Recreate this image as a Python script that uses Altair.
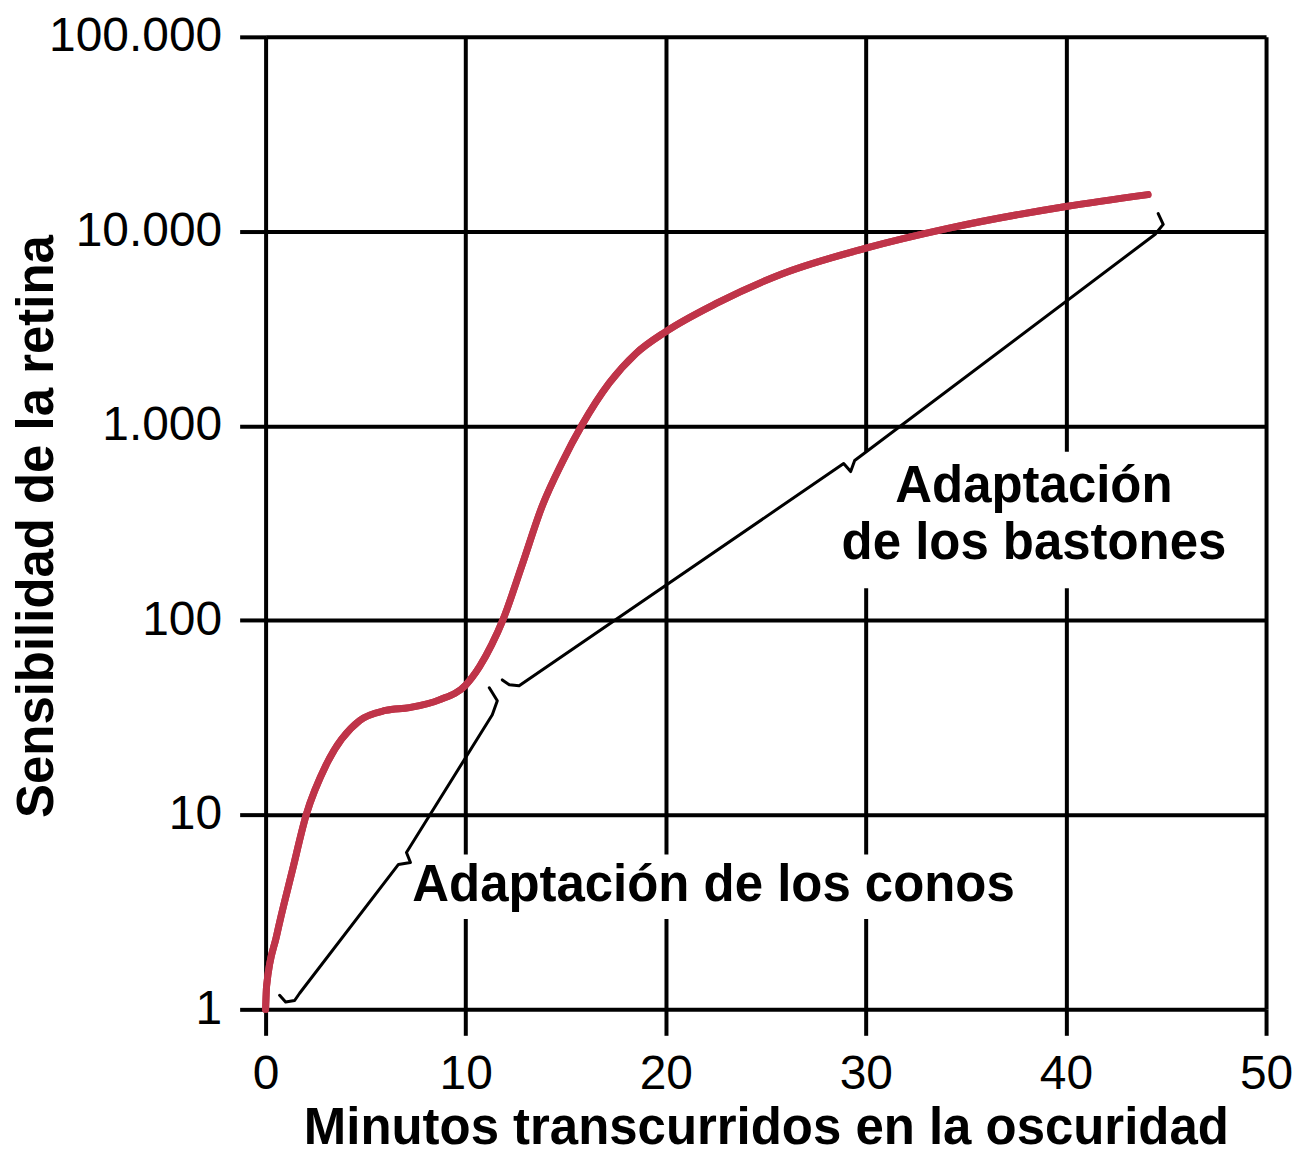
import altair as alt
import pandas as pd

# Red curve: retinal sensitivity vs minutes in darkness
red_x = [0, 0.05, 0.55, 1.35, 2.03, 3.04, 4.69, 6.0, 7.19, 8.68, 10.0, 10.7, 11.3,
         11.85, 12.8, 13.82, 14.82, 15.82, 17.17, 18.51, 20.0, 22.5, 25.8, 30.0,
         34.1, 40.0, 44.1]
red_y = [1, 1.32, 2.39, 5.24, 10, 18.2, 30.5, 34.4, 35.6, 39, 46.5, 58, 75,
         100, 190, 386, 648, 1012, 1657, 2356, 3050, 4245, 6035, 8190,
         10350, 13420, 15450]

# Black bracket lines (two segments with brace curls)
conos_x = [0.70, 1.00, 1.45, 1.70, 6.64, 7.24, 7.04, 11.33, 11.58, 11.18]
conos_y = [1.18, 1.09, 1.11, 1.21, 5.56, 5.69, 6.40, 32.7, 38.6, 45.0]
bast_x = [11.83, 12.18, 12.67, 28.89, 29.24, 29.44, 44.46, 44.86, 44.61]
bast_y = [49.4, 46.6, 46.1, 640, 582, 663, 9660, 10860, 12350]

# Axis ticks
x_ticks = [0, 10, 20, 30, 40, 50]
y_ticks = [1, 10, 100, 1000, 10000, 100000]
y_tick_labels = ["1", "10", "100", "1.000", "10.000", "100.000"]

# Annotations
ann_text = ["Adaptación de los conos", "Adaptación", "de los bastones"]
ann_x = [7.33, 38.4, 38.4]
ann_y = [3.6, 405, 207]

# White boxes behind the annotations (break the grid lines)
box_x = [7.3, 28.7]
box_x2 = [37.9, 48.1]
box_y = [2.91, 146]
box_y2 = [6.25, 736]

red_df = pd.DataFrame({"x": red_x, "y": red_y})
black_df = pd.concat([
    pd.DataFrame({"x": conos_x, "y": conos_y, "seg": "conos",
                  "i": list(range(len(conos_x)))}),
    pd.DataFrame({"x": bast_x, "y": bast_y, "seg": "bastones",
                  "i": list(range(len(bast_x)))}),
])
ann_df = pd.DataFrame({"t": ann_text, "x": ann_x, "y": ann_y})
box_df = pd.DataFrame({"x": box_x, "x2": box_x2, "y": box_y, "y2": box_y2})

label_expr = " : ".join(
    f"datum.value == {v} ? '{l}'" for v, l in zip(y_ticks, y_tick_labels)
) + " : ''"

FONT = "Liberation Sans"

xscale = alt.Scale(domain=[0, 50], nice=False)
yscale = alt.Scale(type="log", domain=[1, 100000], nice=False)

xaxis = alt.Axis(
    values=x_ticks, title="Minutos transcurridos en la oscuridad",
    labelBaseline="alphabetic", labelPadding=53, labelFlush=False,
    titleY=134, titleBaseline="alphabetic", titleX=501, titleAlign="center",
)
yaxis = alt.Axis(
    values=y_ticks, labelExpr=label_expr, title="Sensibilidad de la retina",
    labelPadding=18, labelFlush=False, titleX=-228, titleY=490, titleAngle=270,
    titleAlign="center", titleBaseline="middle",
)

red = alt.Chart(red_df).mark_line(color="#BF3449", strokeWidth=7,
                                  interpolate="monotone", strokeCap="round").encode(
    x=alt.X("x:Q", scale=xscale, axis=xaxis),
    y=alt.Y("y:Q", scale=yscale, axis=yaxis),
)

boxes = alt.Chart(box_df).mark_rect(color="white").encode(
    x=alt.X("x:Q", scale=xscale), x2="x2:Q",
    y=alt.Y("y:Q", scale=yscale), y2="y2:Q",
)

black = alt.Chart(black_df).mark_line(color="black", strokeWidth=3,
                                      strokeJoin="round", strokeCap="round").encode(
    x=alt.X("x:Q", scale=xscale),
    y=alt.Y("y:Q", scale=yscale),
    detail="seg:N",
    order="i:Q",
)

texts_left = alt.Chart(ann_df.iloc[[0]]).mark_text(
    font=FONT, fontSize=51, fontWeight="bold", color="black",
    baseline="alphabetic", align="left",
).encode(
    x=alt.X("x:Q", scale=xscale), y=alt.Y("y:Q", scale=yscale), text="t:N",
)
texts_center = alt.Chart(ann_df.iloc[[1, 2]]).mark_text(
    font=FONT, fontSize=51, fontWeight="bold", color="black",
    baseline="alphabetic", align="center",
).encode(
    x=alt.X("x:Q", scale=xscale), y=alt.Y("y:Q", scale=yscale), text="t:N",
)

chart = alt.layer(red, boxes, black, red, texts_left, texts_center).properties(
    width=1002, height=974,
    autosize=alt.AutoSizeParams(type="none"),
    padding={"left": 258, "top": 28, "right": 33, "bottom": 146},
    background="white",
).configure_view(stroke=None).configure_axis(
    grid=True, gridColor="black", gridWidth=4, gridOpacity=1,
    domain=False, ticks=True, tickColor="black", tickWidth=4, tickSize=26,
    labelFont=FONT, labelFontSize=48, labelColor="black",
    titleFont=FONT, titleFontSize=51, titleFontWeight="bold", titleColor="black",
)

chart.save("out.html", embed_options={"renderer": "svg", "actions": False})
